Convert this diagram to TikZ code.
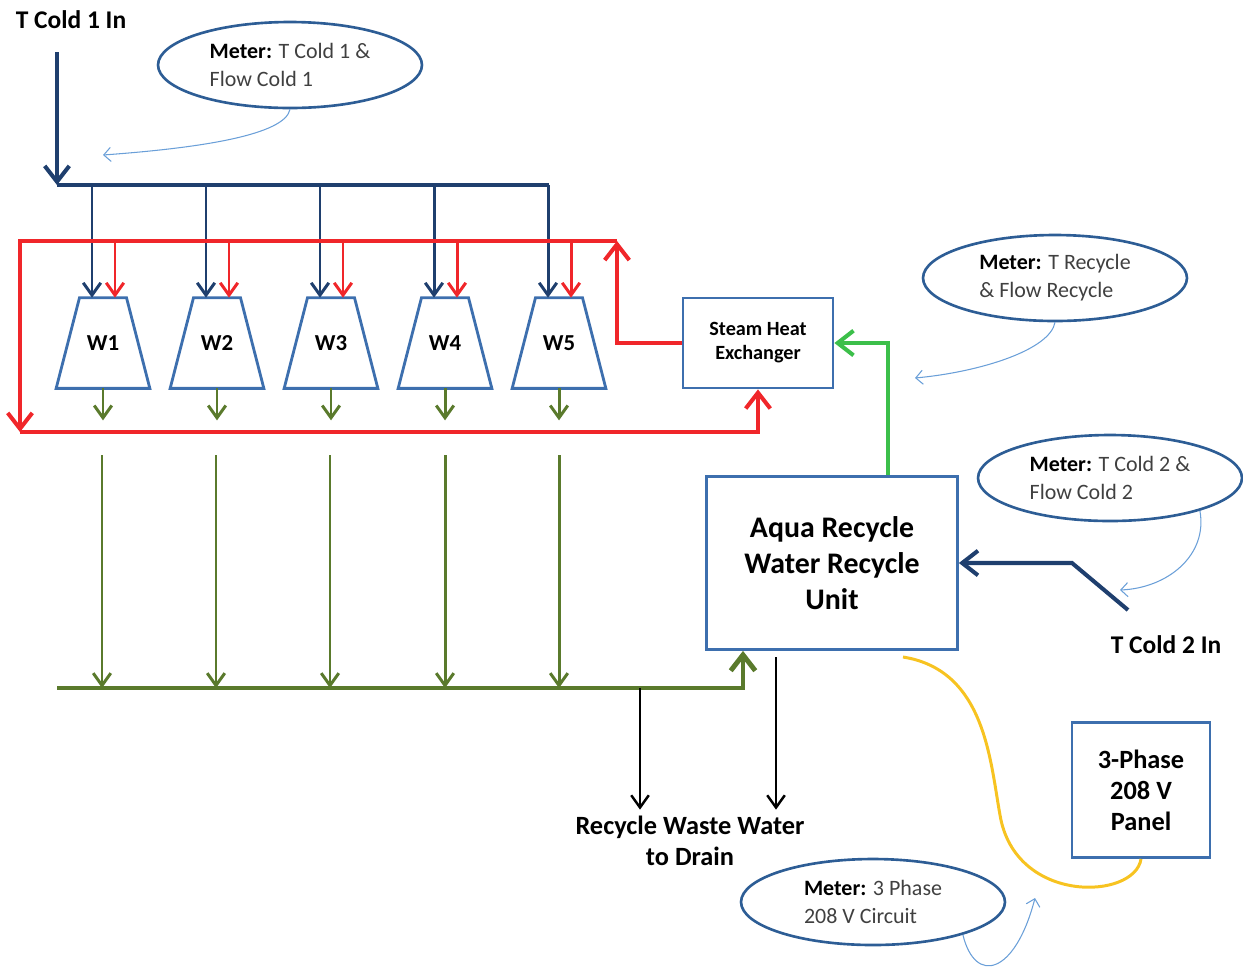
\documentclass[tikz,border=0pt]{standalone}
\usepackage{fontspec}
\setmainfont{Carlito}
\usetikzlibrary{arrows.meta}

\definecolor{coldblue}{HTML}{1F3F6E}
\definecolor{hotred}{HTML}{F0262A}
\definecolor{drainolive}{HTML}{5A7A2C}
\definecolor{loopgreen}{HTML}{3CBF4A}
\definecolor{powergold}{HTML}{F7C321}
\definecolor{boxblue}{HTML}{3D6FAE}
\definecolor{meterblue}{HTML}{2D5D95}
\definecolor{metertext}{HTML}{404040}
\definecolor{calloutblue}{HTML}{6A9FD8}

\usetikzlibrary{shapes.geometric}

\begin{document}
\begin{tikzpicture}[x=0.02cm, y=-0.02cm,
    every node/.style={font=\bfseries\fontsize{12}{14}\selectfont, align=center},
    tipbig/.style={-{Straight Barb[length=9pt, width=14pt]}},
    tipsmall/.style={-{Straight Barb[length=7pt, width=10pt]}},
    washer/.style={rectangle, minimum width=1.86cm, minimum height=1.8cm, inner sep=0pt,
        font=\bfseries\fontsize{13}{15}\selectfont},
    washerline/.style={draw=boxblue, line width=1.6pt, line join=miter},
    unitbox/.style={rectangle, draw=boxblue, line width=1.6pt, inner sep=0pt},
    meter/.style={ellipse, draw=meterblue, line width=1.5pt, minimum width=5.28cm, minimum height=1.72cm,
        inner sep=0pt, align=left, text=metertext, font=\fontsize{12.5}{16}\selectfont},
    meterlink/.style={draw=calloutblue, line width=0.6pt, -{Straight Barb[length=4pt, width=8pt]}},
]
    \useasboundingbox (0,0) rectangle (1243,968);

    % T Cold 1 In
    \node[font=\bfseries\fontsize{14.5}{16}\selectfont] (tcold1) at (71,20) {T Cold 1 In};
    \coordinate (cold1top) at (57,52);
    \coordinate (cold1split) at (57,185);
    \draw[coldblue, line width=2.3pt, tipbig] (cold1top) -- (cold1split);
    \draw[coldblue, line width=2.3pt] (cold1split) -- (549,185);

    % washers
    \node[washer] (w1) at (103,343) {W1};
    \node[washer] (w2) at (217,343) {W2};
    \node[washer] (w3) at (331,343) {W3};
    \node[washer] (w4) at (445,343) {W4};
    \node[washer] (w5) at (559,343) {W5};
    \draw[washerline] ([xshift=-0.47cm]w1.north) -- ([xshift=0.47cm]w1.north) -- (w1.south east) -- (w1.south west) -- cycle;
    \draw[washerline] ([xshift=-0.47cm]w2.north) -- ([xshift=0.47cm]w2.north) -- (w2.south east) -- (w2.south west) -- cycle;
    \draw[washerline] ([xshift=-0.47cm]w3.north) -- ([xshift=0.47cm]w3.north) -- (w3.south east) -- (w3.south west) -- cycle;
    \draw[washerline] ([xshift=-0.47cm]w4.north) -- ([xshift=0.47cm]w4.north) -- (w4.south east) -- (w4.south west) -- cycle;
    \draw[washerline] ([xshift=-0.47cm]w5.north) -- ([xshift=0.47cm]w5.north) -- (w5.south east) -- (w5.south west) -- cycle;

    % cold feed to washers
    \draw[coldblue, line width=1.7pt, tipsmall] (92,185) -- (92,0 |- w1.north);
    \draw[coldblue, line width=1.7pt, tipsmall] (206,185) -- (206,0 |- w2.north);
    \draw[coldblue, line width=1.7pt, tipsmall] (320,185) -- (320,0 |- w3.north);
    \draw[coldblue, line width=1.7pt, tipsmall] (434,185) -- (434,0 |- w4.north);
    \draw[coldblue, line width=1.7pt, tipsmall] (548,185) -- (548,0 |- w5.north);

    % Steam Heat Exchanger
    \node[unitbox, minimum width=3cm, minimum height=1.8cm, font=\bfseries\fontsize{11.5}{13.6}\selectfont]
        (she) at (758,343) {Steam Heat\\Exchanger};

    % hot loop
    \draw[hotred, line width=2.3pt, tipbig] (she.west) -| (617,241);
    \draw[hotred, line width=2.3pt, tipbig] (617,241) -- (20,241) -- (20,432);
    \draw[hotred, line width=2.3pt, tipbig] (20,432) -| (she.south);

    % hot feed to washers
    \draw[hotred, line width=1.7pt, tipsmall] (115,241) -- (115,0 |- w1.north);
    \draw[hotred, line width=1.7pt, tipsmall] (229,241) -- (229,0 |- w2.north);
    \draw[hotred, line width=1.7pt, tipsmall] (343,241) -- (343,0 |- w3.north);
    \draw[hotred, line width=1.7pt, tipsmall] (457,241) -- (457,0 |- w4.north);
    \draw[hotred, line width=1.7pt, tipsmall] (571,241) -- (571,0 |- w5.north);

    % washer outlets
    \draw[drainolive, line width=1.7pt, tipsmall] (w1.south) -- ++(0,32);
    \draw[drainolive, line width=1.7pt, tipsmall] (w2.south) -- ++(0,32);
    \draw[drainolive, line width=1.7pt, tipsmall] (w3.south) -- ++(0,32);
    \draw[drainolive, line width=1.7pt, tipsmall] (w4.south) -- ++(0,32);
    \draw[drainolive, line width=1.7pt, tipsmall] (w5.south) -- ++(0,32);

    % Aqua Recycle unit
    \node[unitbox, minimum width=5.02cm, minimum height=3.46cm, font=\bfseries\fontsize{17}{20.4}\selectfont]
        (aru) at (832,563) {Aqua Recycle\\Water Recycle\\Unit};

    % recycle to exchanger
    \draw[loopgreen, line width=2.3pt, tipbig] (888,0 |- aru.north) |- (she.east);

    % T Cold 2 In
    \node[font=\bfseries\fontsize{14.5}{16}\selectfont] (tcold2) at (1166,645) {T Cold 2 In};
    \coordinate (cold2end) at (1128,610);
    \draw[coldblue, line width=2.3pt, tipbig] (cold2end) -- (1072,563) -- (aru.east);

    % waste collector
    \draw[drainolive, line width=1.7pt, tipsmall] (102,455) -- (102,688);
    \draw[drainolive, line width=1.7pt, tipsmall] (216,455) -- (216,688);
    \draw[drainolive, line width=1.7pt, tipsmall] (330,455) -- (330,688);
    \draw[drainolive, line width=1.7pt, tipsmall] (445,455) -- (445,688);
    \draw[drainolive, line width=1.7pt, tipsmall] (559,455) -- (559,688);
    \draw[drainolive, line width=2.8pt, tipbig] (57,688) -| (743,0 |- aru.south);

    % drain
    \node[font=\bfseries\fontsize{15}{18}\selectfont] (drain) at (690,841) {Recycle Waste Water\\to Drain};
    \draw[black, line width=1.4pt, tipsmall] (640,688) -- (640,0 |- drain.north);
    \draw[black, line width=1.4pt, tipsmall] (776,657) -- (776,0 |- drain.north);

    % 3-Phase panel
    \node[unitbox, minimum width=2.76cm, minimum height=2.7cm, font=\bfseries\fontsize{15}{17.6}\selectfont]
        (panel) at (1141,790) {3-Phase\\208 V\\Panel};
    \draw[powergold, line width=1.7pt] (903,657) .. controls (985,670) and (990,760) .. (1000,815)
        .. controls (1015,905) and (1135,900) .. (panel.south);

    % meters
    \node[meter] (mcold1) at (290,65) {\textcolor{black}{\textbf{Meter:}} T Cold 1 \&\\Flow Cold 1};
    \node[meter] (mrecycle) at (1055,278) {\textcolor{black}{\textbf{Meter:}} T Recycle\\\& Flow Recycle};
    \node[meter] (mcold2) at (1110,478) {\textcolor{black}{\textbf{Meter:}} T Cold 2 \&\\Flow Cold 2};
    \node[meter] (mpower) at (873,902) {\textcolor{black}{\textbf{Meter:}} 3 Phase\\208 V Circuit};

    % meter call-outs
    \coordinate (cold1probe) at (103,155);
    \coordinate (recycleprobe) at (915,378);
    \coordinate (cold2probe) at (1120,590);
    \coordinate (powerprobe) at (1035,898);
    \draw[meterlink] (mcold1.south) .. controls (285,135) and (200,148) .. (cold1probe);
    \draw[meterlink] (mrecycle.south) .. controls (1050,350) and (980,372) .. (recycleprobe);
    \draw[meterlink] (mcold2.-20) .. controls (1208,555) and (1168,588) .. (cold2probe);
    \draw[meterlink] (mpower.-20) .. controls (975,985) and (1015,975) .. (powerprobe);

\end{tikzpicture}
\end{document}
